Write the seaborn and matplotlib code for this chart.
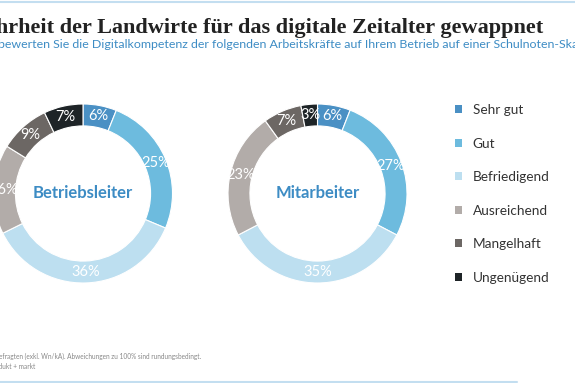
import matplotlib
matplotlib.use('Agg')
import matplotlib.pyplot as plt
import seaborn as sns
from matplotlib.patches import Patch
from matplotlib.lines import Line2D

# data
grades = ['Sehr gut', 'Gut', 'Befriedigend', 'Ausreichend', 'Mangelhaft', 'Ungenügend']
betriebsleiter = [6, 25, 36, 16, 9, 7]
mitarbeiter = [6, 27, 35, 23, 7, 3]
groups = ['Betriebsleiter', 'Mitarbeiter']
colors = ['#4a90c4', '#6dbbde', '#bddff0', '#b2aca9', '#6c6764', '#1e2427']

title = 'Mehrheit der Landwirte für das digitale Zeitalter gewappnet'
subtitle = 'bewerten Sie die Digitalkompetenz der folgenden Arbeitskräfte auf Ihrem Betrieb auf einer Schulnoten-Skala?'
note1 = 'Basis: Alle Befragten (exkl. Wn/kA). Abweichungen zu 100% sind rundungsbedingt.'
note2 = 'Quelle: produkt + markt'

sns.set_theme(style='white')
plt.rcParams['font.family'] = ['Lato', 'DejaVu Sans']

W, H = 575, 383
fig = plt.figure(figsize=(W / 100, H / 100), dpi=100)
fig.patch.set_facecolor('white')

R = 89.5
ring = 0.245
centers = [(83, 193.5), (317.5, 193.5)]

for (cx, cy), name, vals in zip(centers, groups, [betriebsleiter, mitarbeiter]):
    ax = fig.add_axes([(cx - R) / W, (H - cy - R) / H, 2 * R / W, 2 * R / H])
    wedges, texts = ax.pie(vals, colors=colors, startangle=90, counterclock=False,
                           labels=[f'{v}%' for v in vals], labeldistance=1 - ring / 2,
                           radius=1, wedgeprops=dict(width=ring, edgecolor='white', linewidth=0.8),
                           textprops=dict(color='white', fontsize=10.5))
    for t in texts:
        t.set_ha('center')
        t.set_va('center')
    ax.text(0, 0, name, ha='center', va='center', fontsize=12, fontweight='bold', color='#3d8cc4')
    ax.set_xlim(-1, 1)
    ax.set_ylim(-1, 1)
    ax.set_aspect('equal')
    ax.axis('off')

# legend
handles = [Patch(facecolor=c, edgecolor='none') for c in colors]
fig.legend(handles, grades, loc='upper left', bbox_to_anchor=(455 / W, 1 - 104 / H),
           frameon=False, fontsize=9.8, labelcolor='#333333', handlelength=0.55, handleheight=0.55,
           handletextpad=0.75, labelspacing=1.58, borderpad=0, borderaxespad=0)

# title, subtitle, notes
fig.text(543 / W, 1 - 28 / H, title, ha='right', va='center', fontsize=16.0,
         fontweight='bold', color='#222222', family=['Liberation Serif'])
fig.text(-2 / W, 1 - 45 / H, subtitle, ha='left', va='center', fontsize=8.95, color='#3d8cc4')
fig.text(201 / W, 1 - 356 / H, note1, ha='right', va='center', fontsize=4.7, color='#888888')
fig.text(35 / W, 1 - 366 / H, note2, ha='right', va='center', fontsize=4.7, color='#888888')

# frame lines
fig.add_artist(Line2D([0, 1], [1 - 1.5 / H, 1 - 1.5 / H], color='#c3def0', linewidth=1.5))
fig.add_artist(Line2D([0, 517 / W], [1.5 / H, 1.5 / H], color='#c3def0', linewidth=1.5))

fig.savefig('out.png', dpi=100, facecolor='white')
